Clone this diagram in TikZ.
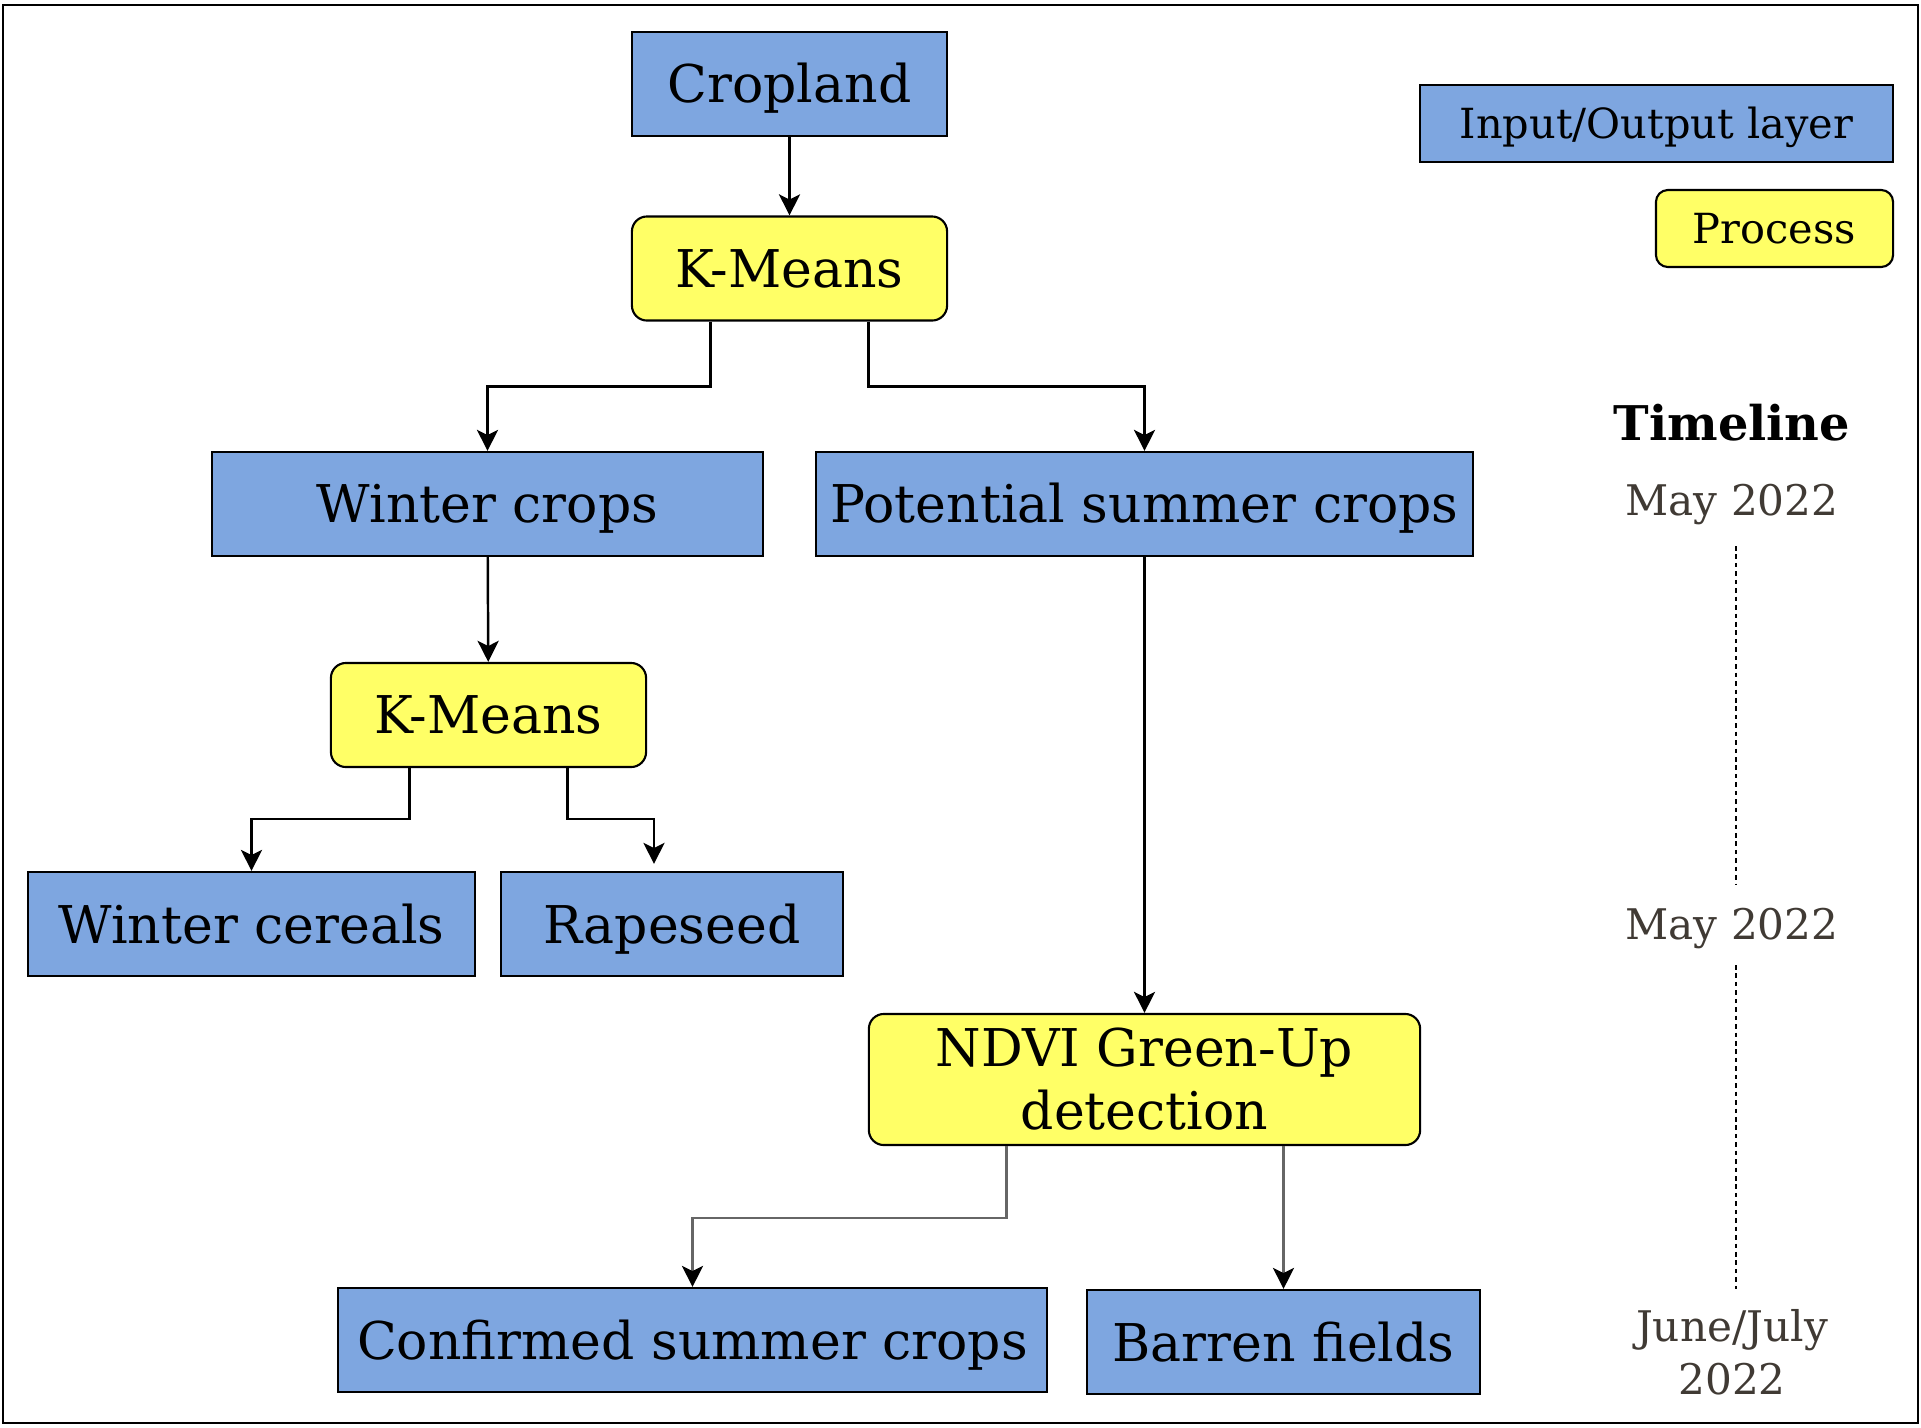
\documentclass[tikz,border=0pt]{standalone}
\usepackage{fontspec}
\setmainfont{DejaVu Serif}
\usepackage{tikz}
\usetikzlibrary{arrows.meta}

\definecolor{layerblue}{HTML}{7EA6E0}
\definecolor{procyellow}{HTML}{FFFF66}
\definecolor{datebrown}{RGB}{64,58,52}

\begin{document}
\begin{tikzpicture}[
x=0.01cm, y=-0.01cm,
layer/.style={draw, fill=layerblue, minimum height=1.04cm, inner sep=2pt, line width=0.6pt, text height=10.8pt, text depth=0pt, font=\fontsize{14.8}{17.5}\selectfont},
process/.style={layer, fill=procyellow, rounded corners=0.15cm},
legend/.style={font=\fontsize{11.8}{14}\selectfont, minimum height=0.77cm, text height=8.6pt},
datelabel/.style={font=\fontsize{12}{15}\selectfont, text=datebrown, align=center, inner sep=0pt},
arrow/.style={-{Stealth[length=6pt,width=6pt,inset=1.5pt]}, line width=0.7pt},
greyarrow/.style={-{Stealth[length=6pt,width=6pt,inset=1.5pt,color=black]}, line width=0.7pt, draw=black!60},
timeline/.style={line width=0.8pt, dash pattern=on 1.3pt off 1.1pt} ]

\useasboundingbox (0,0) rectangle (1921,1427);
\draw[line width=0.7pt] (3,5) rectangle (1918,1423);

\node[layer, minimum width=3.15cm](crop) at (789.5,84) {Cropland};

\node[process, minimum width=3.15cm](km1) at (789.5,268.5) {K-Means};

\node[layer, minimum width=5.51cm](winter) at (487.5,504) {Winter crops};

\node[layer, minimum width=6.57cm](summer) at (1144.5,504) {Potential summer crops};

\node[process, minimum width=3.15cm](km2) at (488.5,715) {K-Means};

\node[layer, minimum width=4.47cm](cereal) at (251.5,924) {Winter cereals};

\node[layer, minimum width=3.42cm](rape) at (672,924) {Rapeseed};

\node[process, minimum width=5.51cm, minimum height=1.31cm, align=center, text height=, text depth=, font=\fontsize{14.8}{17.4}\selectfont](ndvi) at (1144.5,1079.5) {NDVI Green-Up\\[0.5pt]detection};

\node[layer, minimum width=7.09cm](confirmed) at (692.5,1340) {Confirmed summer crops};

\node[layer, minimum width=3.93cm](barren) at (1283.5,1342) {Barren fields};

\node[layer, legend, minimum width=4.73cm](legio) at (1656.5,123.5) {Input/Output layer};

\node[process, legend, minimum width=2.37cm, rounded corners=0.12cm](legproc) at (1774.5,228.5) {Process};

\node[font=\fontsize{13.6}{16}\bfseries](tl) at (1732,423) {Timeline};

\node[datelabel, text height=8.8pt, text depth=0pt](may1) at (1732,500) {May 2022};

\node[datelabel, text height=8.8pt, text depth=0pt](may2) at (1732,924) {May 2022};

\node[datelabel](june) at (1732,1352) {June/July\\2022};

\draw[arrow] (crop) -- (km1);

\draw[arrow] ([xshift=-7.9mm]km1.south) -- ++(0,65) -| (winter.north);

\draw[arrow] ([xshift=7.9mm]km1.south) -- ++(0,65) -| (summer.north);

\draw[arrow] (winter) -- (km2);

\draw[arrow] ([xshift=-7.9mm]km2.south) -- ++(0,51) -| (cereal.north);

\draw[arrow] ([xshift=7.9mm]km2.south) -- ++(0,51) -| ([xshift=-1.8mm,yshift=0.7mm]rape.north);

\draw[arrow] (summer) -- (ndvi);

\draw[greyarrow] ([xshift=-13.8mm]ndvi.south) -- ++(0,72) -| (confirmed.north);

\draw[greyarrow] (ndvi.south -| barren.north) -- (barren.north);

\draw[timeline] ([xshift=0.4mm,yshift=-4.6mm]may1.center) -- ([xshift=0.4mm,yshift=3.9mm]may2.center);

\draw[timeline] ([xshift=0.4mm,yshift=-4.1mm]may2.center) -- ([xshift=0.4mm,yshift=6.3mm]june.center);

\end{tikzpicture}
\end{document}
